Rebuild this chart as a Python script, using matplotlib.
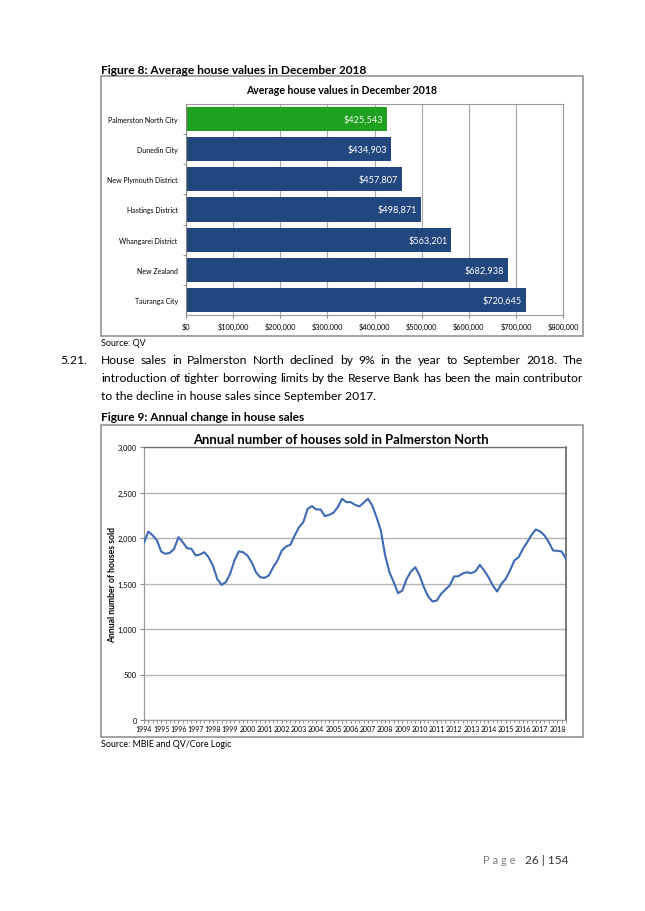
import matplotlib.pyplot as plt
from matplotlib.patches import Rectangle

W, H = 645, 912

# Figure 8 data
areas = ["Palmerston North City", "Dunedin City", "New Plymouth District",
         "Hastings District", "Whangarei District", "New Zealand", "Tauranga City"]
values = [425543, 434903, 457807, 498871, 563201, 682938, 720645]
value_ticks = [0, 100000, 200000, 300000, 400000, 500000, 600000, 700000, 800000]

# Figure 9 data (quarterly, Mar 1994 - Sep 2018)
years = list(range(1994, 2019))
sales = [1950, 2070, 2030, 1975, 1850, 1826, 1837, 1881, 2009, 1954,
         1888, 1881, 1808, 1819, 1844, 1789, 1698, 1551, 1485, 1514,
         1606, 1753, 1852, 1844, 1808, 1734, 1624, 1569, 1562, 1588,
         1679, 1753, 1863, 1907, 1925, 2028, 2119, 2174, 2321, 2350,
         2314, 2314, 2240, 2255, 2277, 2339, 2431, 2394, 2394, 2365,
         2347, 2387, 2431, 2358, 2229, 2083, 1808, 1624, 1514, 1393,
         1423, 1551, 1632, 1679, 1588, 1459, 1357, 1302, 1313, 1386,
         1434, 1478, 1577, 1580, 1610, 1624, 1613, 1635, 1705, 1643,
         1569, 1478, 1412, 1496, 1551, 1643, 1753, 1789, 1881, 1954,
         2035, 2094, 2072, 2028, 1954, 1863, 1859, 1852, 1771]
sales_ticks = [0, 500, 1000, 1500, 2000, 2500, 3000]

para = ["House sales in Palmerston North declined by 9% in the year to September 2018.  The",
        "introduction of tighter borrowing limits by the Reserve Bank has been the main contributor",
        "to the decline in house sales since September 2017."]

plt.rcParams['font.family'] = ['Lato', 'DejaVu Sans']

fig = plt.figure(figsize=(W / 100, H / 100), dpi=100)


def box(l, t, r, b):
    return [l / W, 1 - b / H, (r - l) / W, (b - t) / H]


def ptext(x, y, s, **kw):
    kw.setdefault('va', 'center')
    return fig.text(x / W, 1 - y / H, s, **kw)


def frame(l, t, r, b):
    fig.patches.append(Rectangle((l / W, 1 - b / H), (r - l) / W, (b - t) / H,
                                 transform=fig.transFigure, fill=False,
                                 ec='#8a8a8a', lw=1.1))


def justify(line, x0, x1, y, size):
    words = line.split()
    r = fig.canvas.get_renderer()
    objs = [ptext(0, y, w, fontsize=size) for w in words]
    widths = [o.get_window_extent(r).width for o in objs]
    gap = (x1 - x0 - sum(widths)) / (len(words) - 1)
    x = x0
    for o, w in zip(objs, widths):
        o.set_x(x / W)
        x += w + gap


# ---- Figure 8 ----
ptext(101, 70, "Figure 8: Average house values in December 2018", fontsize=8.6, fontweight='bold')
frame(101, 77, 583, 337)
ptext(342, 90, "Average house values in December 2018", fontsize=7.6, fontweight='bold', ha='center')

ax1 = fig.add_axes(box(186, 105, 563, 316))
colors = ['#20a020'] + ['#22467e'] * (len(areas) - 1)
pos = list(range(len(areas)))
ax1.barh(pos, values, height=0.8, color=colors, zorder=2)
ax1.set_ylim(len(areas) - 0.5, -0.5)
ax1.set_xlim(0, 800000)
ax1.set_xticks(value_ticks, [f"${v:,}" for v in value_ticks], fontsize=5.3)
ax1.set_yticks(pos, areas, fontsize=5.0)
ax1.set_yticks([p + 0.5 for p in pos[:-1]], minor=True)
ax1.tick_params(axis='y', which='major', length=0, pad=6)
ax1.tick_params(axis='y', which='minor', length=2.5, color='#868686')
ax1.tick_params(axis='x', length=2.5, color='#868686', pad=3)
ax1.grid(axis='x', color='#a8a8a8', lw=0.8, zorder=0)
ax1.set_axisbelow(True)
for s in ax1.spines.values():
    s.set_color('#9a9a9a')
    s.set_linewidth(0.8)
ax1.spines['left'].set_color('#868686')
for i, v in enumerate(values):
    ax1.text(v - 8000, i, f"${v:,}", ha='right', va='center', color='white' if i else '#eaffea',
             fontsize=6.6, zorder=3)

ptext(101, 344, "Source: QV", fontsize=6.4)

# ---- paragraph ----
ptext(60, 360, "5.21.", fontsize=8.7)
justify(para[0], 101, 583, 360, 8.7)
justify(para[1], 101, 583, 379, 8.7)
ptext(101, 397, para[2], fontsize=8.7)

# ---- Figure 9 ----
ptext(101, 418, "Figure 9: Annual change in house sales", fontsize=8.6, fontweight='bold')
frame(101, 426, 583, 738)
ptext(341, 440, "Annual number of houses sold in Palmerston North", fontsize=9.4,
      fontweight='bold', ha='center')

ax2 = fig.add_axes(box(144, 448, 566, 721))
xs = list(range(len(sales)))
ax2.plot(xs, sales, color='#3d6ab3', lw=1.5, zorder=3)
ax2.set_xlim(0, len(sales) - 1)
ax2.set_ylim(0, 3000)
ax2.set_yticks(sales_ticks, [f"{v:,}" for v in sales_ticks], fontsize=5.4)
ax2.set_xticks([4 * i for i in range(len(years))], [str(y) for y in years], fontsize=5)
ax2.set_xticks(xs, minor=True)
ax2.tick_params(axis='x', which='both', length=2, color='#868686', pad=1.5)
ax2.tick_params(axis='y', length=3, color='#868686', pad=2)
ax2.grid(axis='y', color='#b5b5b5', lw=1, zorder=0)
for s in ax2.spines.values():
    s.set_color('#9a9a9a')
    s.set_linewidth(0.9)
ax2.spines['right'].set_color('#555555')
ax2.spines['right'].set_linewidth(1.1)
ax2.spines['top'].set_color('#6e6e6e')
ptext(113, 585, "Annual number of houses sold", fontsize=6.2, fontweight='bold',
      rotation=90, ha='center')

ptext(101, 745, "Source: MBIE and QV/Core Logic", fontsize=6.4)

# ---- footer ----
ptext(483, 861, "P a g e", fontsize=8, color='#7f7f7f')
ptext(525, 861, "26 | 154", fontsize=8.6, color='#333333')

fig.savefig("out.png", dpi=100)
